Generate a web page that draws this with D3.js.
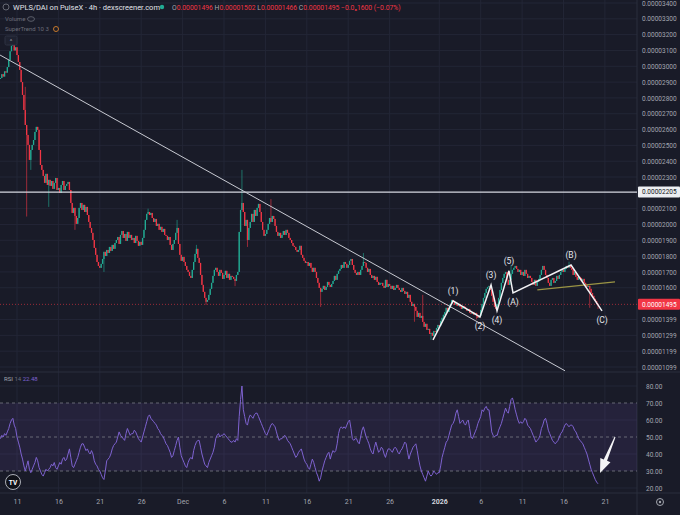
<!DOCTYPE html>
<html>
<head>
<meta charset="utf-8">
<script src="https://cdn.jsdelivr.net/npm/d3@7"></script>
<style>
  body { margin: 0; background: #191b28; }
  svg { display: block; }
</style>
</head>
<body>
<div class="chart"></div>
<script>
// prices are in units of 1e-8 DAI (1496 -> 0.00001496), one close per 4h candle, 6 per day
var startTime = "2025-11-09T00:00:00Z";
var firstOpen = 2920;
var closes = [
  2926, 2950, 2935, 2968, 2960, 2995,   // Nov 9
  3040, 3095, 3130, 3150, 3100, 3120,
  3071, 3027, 2977, 2900, 2819, 2724,
  2629, 2566, 2503, 2408, 2471, 2503,
  2534, 2585, 2617, 2598, 2471, 2376,
  2345, 2307, 2263, 2320, 2250, 2282,
  2244, 2275, 2225, 2263, 2294, 2218,
  2231, 2199, 2250, 2275, 2218, 2244,
  2256, 2269, 2218, 2136, 2073, 2105,
  2054, 2004, 2041, 2105, 2136, 2092,
  2124, 2079, 2111, 2060, 2016, 1978,
  1947, 1902, 1852, 1808, 1763, 1738,
  1726, 1751, 1782, 1827, 1801, 1839,
  1820, 1858, 1833, 1871, 1846, 1883,
  1902, 1921, 1877, 1934, 1959, 1915,
  1940, 1896, 1953, 1915, 1934, 1902,
  1915, 1883, 1928, 1896, 1865, 1890,
  1871, 1915, 1966, 2029, 2067, 2079,
  2060, 2073, 2041, 2016, 2035, 1991,
  2004, 1966, 1985, 1953, 1972, 1934,
  1928, 1902, 1921, 1871, 1839, 1877,
  1902, 1947, 1978, 1877, 1808, 1770,   // Nov 30
  1795, 1763, 1738, 1713, 1700, 1675,   // Dec 1
  1662, 1713, 1763, 1814, 1846, 1789,
  1757, 1681, 1618, 1574, 1536, 1511,
  1523, 1555, 1593, 1631, 1675, 1713,
  1726, 1700, 1675, 1713, 1694, 1656,
  1681, 1707, 1662, 1688, 1650, 1675,
  1669, 1656, 1643, 1681, 1700, 1953,
  2092, 2136, 2079, 1991, 2029, 1902,
  1978, 2016, 2067, 2016, 2092, 2054,
  2105, 2130, 2079, 2016, 1966, 1928,
  1940, 1966, 2004, 2041, 2016, 2054,
  2035, 1991, 1953, 1928, 1947, 1915,
  1934, 1959, 1934, 1966, 1947, 1915,
  1902, 1883, 1865, 1858, 1839, 1827,
  1839, 1865, 1808, 1789, 1770, 1757,
  1763, 1738, 1757, 1726, 1700, 1726,
  1700, 1662, 1631, 1599, 1574, 1593,
  1612, 1586, 1605, 1637, 1618, 1605,
  1624, 1643, 1675, 1650, 1688, 1707,
  1719, 1744, 1726, 1763, 1751, 1726,
  1744, 1770, 1782, 1744, 1713, 1694,
  1681, 1700, 1681, 1713, 1738, 1763,
  1757, 1726, 1700, 1719, 1681, 1662,
  1675, 1650, 1669, 1637, 1618, 1631,
  1631, 1612, 1599, 1650, 1605, 1624,
  1612, 1593, 1612, 1586, 1599, 1618,
  1599, 1586, 1574, 1599, 1580, 1561,
  1574, 1536, 1555, 1511, 1485, 1498,
  1479, 1454, 1416, 1441, 1410, 1422,
  1384, 1353, 1372, 1334, 1340, 1308,
  1315, 1296, 1327, 1321, 1346, 1365,   // Dec 31
  1359, 1391, 1410, 1429, 1447, 1473,   // Jan 1
  1447, 1473, 1498, 1523, 1511, 1492,
  1504, 1485, 1498, 1479, 1466, 1485,
  1479, 1466, 1454, 1466, 1441, 1435,
  1447, 1429, 1441, 1422, 1410, 1422,
  1460, 1498, 1536, 1567, 1593, 1605,
  1612, 1586, 1549, 1511, 1479, 1466,
  1498, 1536, 1586, 1631, 1662, 1688,
  1700, 1650, 1618, 1650, 1688, 1713,
  1726, 1738, 1719, 1700, 1713, 1681,
  1700, 1675, 1713, 1688, 1662, 1675,
  1662, 1637, 1618, 1650, 1612, 1637,
  1656, 1681, 1713, 1738, 1713, 1681,
  1662, 1631, 1612, 1650, 1662, 1631,
  1643, 1675, 1656, 1681, 1700, 1713,
  1700, 1719, 1738, 1726, 1744, 1726,
  1713, 1681, 1700, 1669, 1650, 1669,
  1662, 1643, 1656, 1631, 1618, 1605,
  1612, 1593, 1567, 1549, 1530, 1517,   // Jan 19
  1496, 1495                            // Jan 20
];

// visible wicks: [candle index, high, low] (null = no wick on that side)
var wicks = [
  [9, 3166, null], [18, 2870, null], [19, null, 2050], [22, null, 2345], [35, null, 2111],
  [54, null, 1966], [75, null, 1700], [107, 2100, null], [128, 2029, null], [142, 1871, null],
  [149, null, 1492], [170, null, 1610], [175, 2345, null], [179, null, 1858], [196, 2160, null],
  [232, null, 1479], [263, 1820, null], [300, null, 1385], [306, 1555, null], [312, null, 1270],
  [345, null, 1400], [370, 1745, null], [412, 1765, null], [427, null, 1473], [433, 1502, 1466]
];

// RSI(14), one value per candle
var rsiValues = [
  49, 51, 50, 52, 51, 53,
  55, 58, 60, 61, 57, 55,
  50, 47, 44, 40, 37, 33,
  30, 33, 36, 31, 29, 31,
  33, 35, 38, 36, 32, 30,
  28, 27, 29, 31, 30, 31,
  32, 34, 33, 35, 32, 31,
  33, 35, 34, 37, 38, 36,
  37, 40, 43, 38, 33, 32,
  34, 36, 38, 41, 44, 46,
  46, 44, 42, 43, 41, 40,
  42, 40, 36, 34, 33, 31,
  30, 28, 26, 25, 30, 36,
  37, 38, 40, 43, 45, 46,
  47, 50, 53, 51, 50, 49,
  48, 52, 55, 53, 51, 52,
  52, 54, 53, 51, 49, 48,
  47, 50, 53, 56, 59, 62,
  63, 61, 60, 59, 58, 57,
  55, 54, 52, 51, 50, 48,
  46, 45, 43, 41, 38, 39,
  42, 45, 48, 50, 44, 39,
  37, 35, 33, 32, 35, 37,
  38, 37, 42, 45, 47, 48,
  48, 44, 40, 37, 34, 33,
  32, 35, 37, 39, 41, 44,
  49, 51, 52, 50, 51, 51,
  52, 51, 50, 49, 48, 47,
  47, 48, 47, 49, 48, 62,
  72, 80, 66, 62, 58, 57,
  61, 63, 62, 61, 63, 64,
  64, 62, 60, 58, 56, 54,
  52, 51, 53, 55, 57, 58,
  57, 56, 53, 50, 48, 49,
  49, 50, 51, 50, 48, 47,
  46, 44, 42, 40, 38, 39,
  41, 42, 43, 40, 37, 35,
  34, 32, 31, 34, 37, 35,
  32, 29, 27, 24, 26, 30,
  33, 36, 38, 40, 41, 37,
  40, 42, 41, 42, 46, 52,
  55, 56, 55, 56, 55, 57,
  59, 60, 55, 49, 48, 49,
  49, 47, 46, 50, 54, 56,
  53, 50, 48, 46, 43, 41,
  40, 44, 47, 44, 41, 42,
  44, 43, 40, 38, 41, 43,
  43, 42, 41, 43, 44, 43,
  41, 40, 42, 43, 45, 47,
  46, 41, 37, 40, 42, 44,
  45, 46, 42, 37, 33, 30,
  28, 26, 24, 27, 30, 28,
  27, 28, 30, 29, 28, 29,
  29, 33, 38, 41, 44, 47,
  48, 51, 54, 57, 58, 60,
  64, 66, 62, 58, 59, 60,
  58, 57, 59, 60, 55, 50,
  49, 51, 53, 55, 58, 60,
  62, 66, 65, 67, 68, 66,
  66, 60, 53, 51, 50, 51,
  51, 54, 56, 58, 61, 64,
  67, 65, 64, 68, 72, 73,
  70, 66, 63, 60, 58, 59,
  58, 59, 61, 60, 57, 56,
  55, 53, 51, 49, 47, 48,
  49, 51, 55, 57, 60, 61,
  58, 54, 52, 50, 48, 47,
  46, 47, 48, 50, 52, 53,
  55, 57, 58, 57, 56, 57,
  57, 56, 54, 53, 51, 49,
  48, 47, 46, 44, 42, 40,
  37, 34, 31, 29, 27, 25,
  23.5, 22.48
];

var priceTicks = [3400, 3300, 3200, 3100, 3000, 2900, 2800, 2700, 2600, 2500, 2400, 2300,
  2100, 2000, 1900, 1800, 1700, 1600, 1399, 1299, 1199, 1099];
var rsiTicks = [80, 70, 60, 50, 40, 30, 20];
var timeTickDates = ["2025-11-11", "2025-11-16", "2025-11-21", "2025-11-26", "2025-12-01", "2025-12-06",
  "2025-12-11", "2025-12-16", "2025-12-21", "2025-12-26", "2026-01-01", "2026-01-06", "2026-01-11",
  "2026-01-16", "2026-01-21"];
var timeTickLabels = ["11", "16", "21", "26", "Dec", "6", "11", "16", "21", "26", "2026", "6", "11", "16", "21"];

// drawings on the chart
var levelPrice = 2205;
var trendLine = [["2025-11-08T22:50:00Z", 3071], ["2026-01-16T04:20:00Z", 1075]];
var waveDates = ["2025-12-31T05:45:00Z", "2026-01-02T15:50:00Z", "2026-01-05T22:00:00Z", "2026-01-07T06:00:00Z",
  "2026-01-07T23:20:00Z", "2026-01-09T10:00:00Z", "2026-01-09T21:40:00Z", "2026-01-16T21:50:00Z", "2026-01-20T15:40:00Z"];
var wavePrices = [1270, 1517, 1416, 1618, 1454, 1707, 1567, 1744, 1454];
var waveLabels = ["", "(1)", "(2)", "(3)", "(4)", "(5)", "(A)", "(B)", "(C)"];
var oliveLine = [["2026-01-12T20:10:00Z", 1586], ["2026-01-22T05:20:00Z", 1637]];
var rsiArrow = [["2026-01-22T05:20:00Z", 50], ["2026-01-20T09:50:00Z", 28.8]];

var svgWidth = 680;
var svgHeight = 515;
var plotRight = 637;
var priceBottom = 372;
var rsiBottom = 493;

var svg = d3.select(".chart")
  .append("svg")
  .attr("width", svgWidth)
  .attr("height", svgHeight)
  .style("background", "#191b28")
  .style("font-family", "Roboto, sans-serif");

// Scales
var xScale = d3.scaleUtc()
  .domain([new Date("2025-11-09T00:00:00Z"), new Date("2026-01-21T00:00:00Z")])
  .range([0.44, 604.9]);
var yScale = d3.scaleLinear().domain([1099, 3400]).range([367, 3]);
var rsiScale = d3.scaleLinear().domain([20, 80]).range([488, 386]);

var t0 = new Date(startTime).getTime();
var candles = closes.map(function(c, i) {
  var open = i === 0 ? firstOpen : closes[i - 1];
  return { time: new Date(t0 + i * 4 * 3600e3), open: open, close: c,
           high: Math.max(open, c), low: Math.min(open, c), rsi: rsiValues[i] };
});
wicks.forEach(function(w) {
  if (w[1] != null) candles[w[0]].high = w[1];
  if (w[2] != null) candles[w[0]].low = w[2];
});
var last = candles[candles.length - 1];

svg.append("clipPath").attr("id", "clipPrice")
  .append("rect").attr("x", 0).attr("y", 0).attr("width", plotRight).attr("height", priceBottom);
svg.append("clipPath").attr("id", "clipRsi")
  .append("rect").attr("x", 0).attr("y", priceBottom).attr("width", plotRight).attr("height", rsiBottom - priceBottom);

// Grid
var grid = svg.append("g").attr("stroke", "#232636").attr("stroke-width", 1);
grid.selectAll(".vgrid").data(timeTickDates).enter().append("line")
  .attr("x1", d => xScale(new Date(d))).attr("x2", d => xScale(new Date(d)))
  .attr("y1", 0).attr("y2", rsiBottom);
grid.selectAll(".hgrid").data(priceTicks).enter().append("line")
  .attr("x1", 0).attr("x2", plotRight)
  .attr("y1", d => yScale(d)).attr("y2", d => yScale(d));
grid.selectAll(".rgrid").data([80, 60, 40, 20]).enter().append("line")
  .attr("x1", 0).attr("x2", plotRight)
  .attr("y1", d => rsiScale(d)).attr("y2", d => rsiScale(d));

// panel borders
svg.append("line").attr("x1", 0).attr("x2", svgWidth).attr("y1", priceBottom).attr("y2", priceBottom)
  .attr("stroke", "#2a2e3c");
svg.append("line").attr("x1", 0).attr("x2", svgWidth).attr("y1", rsiBottom).attr("y2", rsiBottom)
  .attr("stroke", "#2a2e3c");
svg.append("line").attr("x1", plotRight).attr("x2", plotRight).attr("y1", 0).attr("y2", svgHeight)
  .attr("stroke", "#2a2e3c");

// Price panel
var pricePlot = svg.append("g").attr("clip-path", "url(#clipPrice)");

pricePlot.append("line")
  .attr("x1", 0).attr("x2", plotRight)
  .attr("y1", yScale(last.close)).attr("y2", yScale(last.close))
  .attr("stroke", "#f23645").attr("stroke-opacity", 0.6).attr("stroke-dasharray", "1,2");

var candleGroup = pricePlot.selectAll(".candle").data(candles).enter().append("g");
candleGroup.append("line")
  .attr("x1", d => xScale(d.time)).attr("x2", d => xScale(d.time))
  .attr("y1", d => yScale(d.high)).attr("y2", d => yScale(d.low))
  .attr("stroke", d => d.close >= d.open ? "#22ab94" : "#f23645")
  .attr("stroke-width", 0.6);
candleGroup.append("rect")
  .attr("x", d => xScale(d.time) - 0.65)
  .attr("width", 1.3)
  .attr("y", d => yScale(Math.max(d.open, d.close)))
  .attr("height", d => Math.max(0.8, Math.abs(yScale(d.open) - yScale(d.close))))
  .attr("fill", d => d.close >= d.open ? "#22ab94" : "#f23645");

pricePlot.append("line")
  .attr("x1", 0).attr("x2", plotRight)
  .attr("y1", yScale(levelPrice)).attr("y2", yScale(levelPrice))
  .attr("stroke", "#d6d8e0").attr("stroke-width", 1.3);

pricePlot.append("line")
  .attr("x1", xScale(new Date(trendLine[0][0]))).attr("y1", yScale(trendLine[0][1]))
  .attr("x2", xScale(new Date(trendLine[1][0]))).attr("y2", yScale(trendLine[1][1]))
  .attr("stroke", "#c8cad2").attr("stroke-width", 1);

pricePlot.append("line")
  .attr("x1", xScale(new Date(oliveLine[0][0]))).attr("y1", yScale(oliveLine[0][1]))
  .attr("x2", xScale(new Date(oliveLine[1][0]))).attr("y2", yScale(oliveLine[1][1]))
  .attr("stroke", "#9a9444").attr("stroke-width", 1.3);

var wave = waveDates.map((d, i) => ({ time: new Date(d), price: wavePrices[i], label: waveLabels[i] }));
pricePlot.append("path")
  .datum(wave)
  .attr("fill", "none")
  .attr("stroke", "#f2f2f4")
  .attr("stroke-width", 1.5)
  .attr("stroke-linejoin", "miter")
  .attr("d", d3.line().x(d => xScale(d.time)).y(d => yScale(d.price)));

pricePlot.selectAll(".waveLabel").data(wave.filter(d => d.label)).enter().append("text")
  .attr("x", d => xScale(d.time))
  .attr("y", function(d, i) { return yScale(d.price) + (i % 2 === 0 ? -7 : 12); })
  .attr("text-anchor", "middle")
  .style("font-size", "8.5px")
  .style("fill", "#e6e7ec")
  .text(d => d.label);

// RSI panel
var rsiPlot = svg.append("g").attr("clip-path", "url(#clipRsi)");
rsiPlot.append("rect")
  .attr("x", 0).attr("width", plotRight)
  .attr("y", rsiScale(70)).attr("height", rsiScale(30) - rsiScale(70))
  .attr("fill", "#7e57c2").attr("fill-opacity", 0.13);
rsiPlot.selectAll(".rsiLevel").data([70, 50, 30]).enter().append("line")
  .attr("x1", 0).attr("x2", plotRight)
  .attr("y1", d => rsiScale(d)).attr("y2", d => rsiScale(d))
  .attr("stroke", "#787b86").attr("stroke-opacity", 0.8).attr("stroke-dasharray", "3,3");
rsiPlot.append("path")
  .datum(candles)
  .attr("fill", "none")
  .attr("stroke", "#7e62d0")
  .attr("stroke-width", 1)
  .attr("d", d3.line().x(d => xScale(d.time)).y(d => rsiScale(d.rsi)));

// arrow pointing at the RSI low
var ax1 = xScale(new Date(rsiArrow[0][0])), ay1 = rsiScale(rsiArrow[0][1]);
var ax2 = xScale(new Date(rsiArrow[1][0])), ay2 = rsiScale(rsiArrow[1][1]);
var len = Math.hypot(ax2 - ax1, ay2 - ay1);
var ux = (ax2 - ax1) / len, uy = (ay2 - ay1) / len, nx = -uy, ny = ux;
var hb = len - 14;
var arrowPts = [
  [ax1 + nx * 0.5, ay1 + ny * 0.5],
  [ax1 + ux * hb + nx * 1.8, ay1 + uy * hb + ny * 1.8],
  [ax1 + ux * hb + nx * 5.5, ay1 + uy * hb + ny * 5.5],
  [ax2, ay2],
  [ax1 + ux * hb - nx * 5.5, ay1 + uy * hb - ny * 5.5],
  [ax1 + ux * hb - nx * 1.8, ay1 + uy * hb - ny * 1.8],
  [ax1 - nx * 0.5, ay1 - ny * 0.5]
];
svg.append("polygon")
  .attr("points", arrowPts.map(p => p.join(",")).join(" "))
  .attr("fill", "#f4f4f6");

// Axes
var axisFont = "6.5px";
var priceAxis = svg.append("g")
  .attr("transform", `translate(${plotRight}, 0)`)
  .call(d3.axisRight(yScale).tickValues(priceTicks).tickSize(0).tickPadding(5)
    .tickFormat(v => (v * 1e-8).toFixed(8)));
var rsiAxis = svg.append("g")
  .attr("transform", `translate(${plotRight}, 0)`)
  .call(d3.axisRight(rsiScale).tickValues(rsiTicks).tickSize(0).tickPadding(9)
    .tickFormat(d3.format(".2f")));
var timeAxis = svg.append("g")
  .attr("transform", `translate(0, ${rsiBottom})`)
  .call(d3.axisBottom(xScale).tickValues(timeTickDates.map(d => new Date(d))).tickSize(0).tickPadding(6)
    .tickFormat((d, i) => timeTickLabels[i]));

[priceAxis, rsiAxis, timeAxis].forEach(function(a) {
  a.select(".domain").remove();
  a.selectAll("text").style("font-size", axisFont).style("fill", "#a3a6af")
    .style("font-family", "Roboto, sans-serif");
});
timeAxis.selectAll("text").style("font-size", "7px")
  .style("font-weight", (d, i) => timeTickLabels[i] === "2026" ? "bold" : "normal")
  .style("fill", (d, i) => timeTickLabels[i] === "2026" ? "#d1d4dc" : "#a3a6af");

// price tags on the axis
function priceTag(price, fill, color) {
  var g = svg.append("g").attr("transform", `translate(${plotRight + 1}, ${yScale(price)})`);
  g.append("rect").attr("x", 0).attr("y", -5.5).attr("width", svgWidth - plotRight - 1).attr("height", 11)
    .attr("rx", 1).attr("fill", fill);
  g.append("text").attr("x", 4).attr("dy", "0.35em").style("font-size", axisFont).style("fill", color)
    .text((price * 1e-8).toFixed(8));
}
priceTag(levelPrice, "#eceef2", "#131722");
priceTag(last.close, "#f23645", "#ffffff");

// Legend / header
var header = svg.append("g").style("font-size", "7.5px");
header.append("circle").attr("cx", 6).attr("cy", 7).attr("r", 3).attr("fill", "none")
  .attr("stroke", "#787b86").attr("stroke-width", 0.8);
header.append("text").attr("x", 13).attr("y", 10).style("fill", "#e1e3ea")
  .text("WPLS/DAI on PulseX · 4h · dexscreener.com");
header.append("circle").attr("cx", 162).attr("cy", 7).attr("r", 2.2).attr("fill", "#22ab94");
var ohlc = header.append("text").attr("x", 172).attr("y", 10).style("font-size", "6.8px");
[["O", last.open], ["H", last.high], ["L", last.low], ["C", last.close]].forEach(function(p) {
  ohlc.append("tspan").style("fill", "#a3a6af").text(p[0]);
  ohlc.append("tspan").style("fill", "#f23645").text((p[1] * 1e-8).toFixed(8) + " ");
});
ohlc.append("tspan").style("fill", "#f23645").text("−0.0₈1600 (−0.07%)");

header.append("text").attr("x", 5).attr("y", 21).style("font-size", "6px").style("fill", "#6a6d78").text("Volume");
header.append("ellipse").attr("cx", 31).attr("cy", 19).attr("rx", 3.5).attr("ry", 2.3)
  .attr("fill", "none").attr("stroke", "#6a6d78").attr("stroke-width", 0.8);
header.append("text").attr("x", 5).attr("y", 31).style("font-size", "6px").style("fill", "#6a6d78")
  .text("SuperTrend 10 3");
header.append("circle").attr("cx", 56).attr("cy", 29).attr("r", 2.5).attr("fill", "none")
  .attr("stroke", "#c7792b").attr("stroke-width", 1);
header.append("rect").attr("x", 5).attr("y", 36).attr("width", 12).attr("height", 9).attr("rx", 1.5)
  .attr("fill", "#1f2230").attr("stroke", "#2e3242");
header.append("text").attr("x", 11).attr("y", 43).attr("text-anchor", "middle").style("font-size", "6px")
  .style("fill", "#a3a6af").text("^");

var rsiLabel = svg.append("text").attr("x", 4).attr("y", 381).style("font-size", "6px");
rsiLabel.append("tspan").style("fill", "#a3a6af").text("RSI  ");
rsiLabel.append("tspan").style("fill", "#6a6d78").text("14  ");
rsiLabel.append("tspan").style("fill", "#7e62d0").text(d3.format(".2f")(last.rsi));

// TradingView badge and settings icon
svg.append("circle").attr("cx", 13).attr("cy", 482).attr("r", 7.5)
  .attr("fill", "#101219").attr("stroke", "#d1d4dc").attr("stroke-width", 0.8);
svg.append("text").attr("x", 13).attr("y", 484.5).attr("text-anchor", "middle")
  .style("font-size", "6.5px").style("font-weight", "bold").style("fill", "#ffffff").text("TV");
svg.append("circle").attr("cx", 660).attr("cy", 502).attr("r", 3.5).attr("fill", "none")
  .attr("stroke", "#a3a6af").attr("stroke-width", 1);
svg.append("circle").attr("cx", 660).attr("cy", 502).attr("r", 1.2).attr("fill", "#a3a6af");
</script>
</body>
</html>
